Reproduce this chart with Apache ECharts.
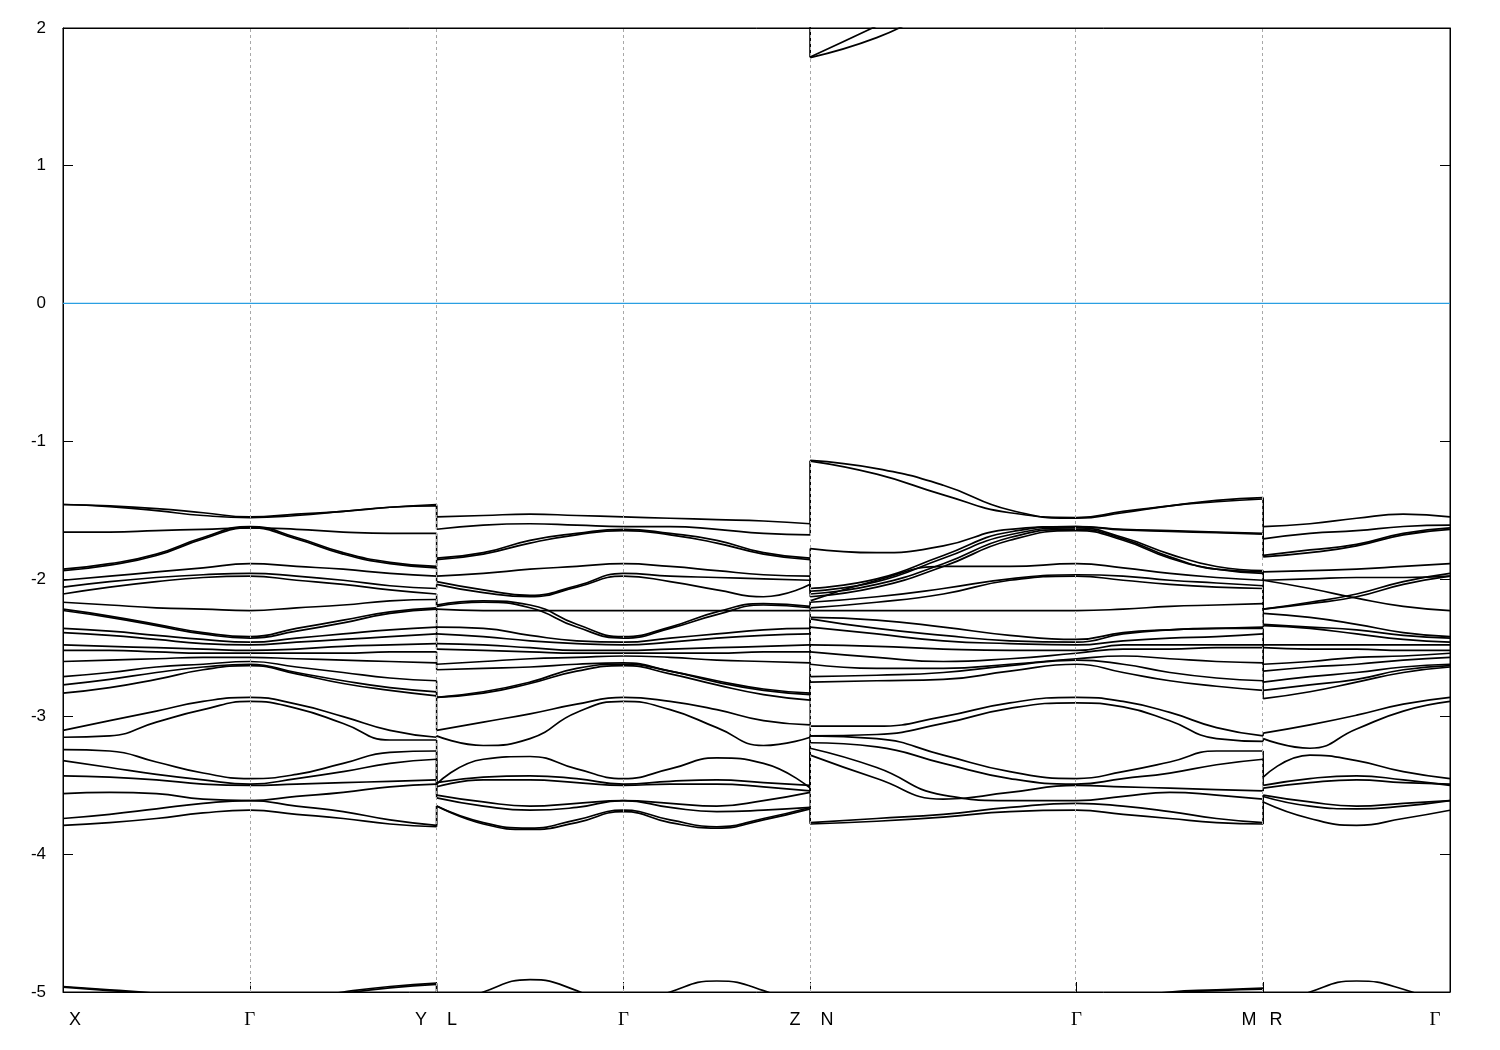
<!DOCTYPE html>
<html><head><meta charset="utf-8">
<script src="https://cdn.jsdelivr.net/npm/echarts@6/dist/echarts.min.js"></script>
<style>html,body{margin:0;padding:0;background:#fff}#c{width:1500px;height:1050px}</style>
</head><body><div id="c"></div>
<script>
// k-path positions (X, Γ, Y|L, Γ, Z|N, Γ, M|R, Γ)
const kPoints = [0, 1, 2, 3, 4, 5.425, 6.425, 7.425];
const segments = [[0, 1], [1, 2], [2, 3], [3, 4], [4, 5.425], [5.425, 6.425], [6.425, 7.425]];
const tickLabels = ['X', 'Γ', 'Y', 'L', 'Γ', 'Z', 'N', 'Γ', 'M', 'R', 'Γ'];
const tickLabelPos = [0.064, 1, 1.917, 2.082, 3, 3.919, 4.09, 5.425, 6.349, 6.494, 7.345];
const energyMin = -5, energyMax = 2, energyStep = 1;
const fermiLevel = 0;

// Bands per segment: energies (eV) at 0, 1/4, 1/2, 3/4, 1 of each segment
const bandsXG = [
  [-1.46, -1.47, -1.49, -1.52, -1.55],
  [-1.46, -1.475, -1.505, -1.54, -1.555],
  [-1.66, -1.66, -1.65, -1.64, -1.63],
  [-1.93, -1.89, -1.82, -1.70, -1.62],
  [-1.94, -1.90, -1.83, -1.71, -1.63],
  [-2.01, -1.98, -1.95, -1.92, -1.89],
  [-2.06, -2.02, -1.99, -1.97, -1.96],
  [-2.11, -2.06, -2.02, -1.99, -1.98],
  [-2.17, -2.19, -2.21, -2.22, -2.23],
  [-2.22, -2.27, -2.33, -2.39, -2.42],
  [-2.23, -2.28, -2.34, -2.40, -2.43],
  [-2.36, -2.38, -2.41, -2.44, -2.46],
  [-2.39, -2.41, -2.44, -2.47, -2.48],
  [-2.48, -2.49, -2.50, -2.51, -2.52],
  [-2.52, -2.52, -2.53, -2.54, -2.54],
  [-2.60, -2.59, -2.58, -2.57, -2.57],
  [-2.71, -2.68, -2.64, -2.62, -2.60],
  [-2.77, -2.73, -2.68, -2.64, -2.62],
  [-2.83, -2.79, -2.73, -2.66, -2.63],
  [-3.10, -3.03, -2.96, -2.89, -2.86],
  [-3.15, -3.14, -3.04, -2.95, -2.89],
  [-3.24, -3.25, -3.33, -3.41, -3.45],
  [-3.32, -3.37, -3.42, -3.46, -3.49],
  [-3.43, -3.44, -3.46, -3.49, -3.50],
  [-3.56, -3.55, -3.56, -3.60, -3.61],
  [-3.74, -3.71, -3.67, -3.63, -3.61],
  [-3.79, -3.77, -3.74, -3.70, -3.68],
  [2.30, 2.32, 2.36, 2.42, 2.45],
  [2.25, 2.28, 2.32, 2.37, 2.40],
  [-4.96, -4.985, -5.01, -5.06, -5.10],
  [-4.965, -4.99, -5.02, -5.07, -5.12]
];
const bandsGY = [
  [-1.55, -1.53, -1.51, -1.48, -1.46],
  [-1.555, -1.54, -1.51, -1.48, -1.47],
  [-1.63, -1.64, -1.66, -1.67, -1.67],
  [-1.62, -1.70, -1.81, -1.88, -1.91],
  [-1.63, -1.71, -1.82, -1.89, -1.92],
  [-1.89, -1.91, -1.93, -1.96, -1.98],
  [-1.96, -1.98, -2.01, -2.05, -2.07],
  [-1.98, -2.01, -2.04, -2.08, -2.11],
  [-2.23, -2.21, -2.19, -2.16, -2.15],
  [-2.42, -2.36, -2.30, -2.24, -2.21],
  [-2.43, -2.38, -2.32, -2.25, -2.22],
  [-2.46, -2.43, -2.40, -2.37, -2.35],
  [-2.48, -2.46, -2.44, -2.42, -2.40],
  [-2.52, -2.51, -2.49, -2.48, -2.47],
  [-2.54, -2.54, -2.54, -2.53, -2.53],
  [-2.57, -2.58, -2.59, -2.60, -2.61],
  [-2.60, -2.64, -2.68, -2.72, -2.74],
  [-2.62, -2.68, -2.74, -2.79, -2.82],
  [-2.63, -2.69, -2.76, -2.81, -2.85],
  [-2.86, -2.91, -3.00, -3.10, -3.15],
  [-2.89, -2.94, -3.05, -3.17, -3.17],
  [-3.45, -3.42, -3.34, -3.26, -3.25],
  [-3.49, -3.45, -3.40, -3.34, -3.31],
  [-3.50, -3.49, -3.48, -3.47, -3.46],
  [-3.61, -3.58, -3.55, -3.51, -3.49],
  [-3.61, -3.65, -3.69, -3.75, -3.79],
  [-3.68, -3.71, -3.74, -3.78, -3.80],
  [2.45, 2.42, 2.36, 2.32, 2.30],
  [2.40, 2.37, 2.32, 2.28, 2.25],
  [-5.10, -5.05, -5.00, -4.96, -4.935],
  [-5.12, -5.06, -5.01, -4.97, -4.945]
];
const bandsLG = [
  [-1.55, -1.54, -1.53, -1.54, -1.55],
  [-1.64, -1.61, -1.60, -1.61, -1.62],
  [-1.85, -1.81, -1.72, -1.67, -1.64],
  [-1.86, -1.82, -1.74, -1.68, -1.65],
  [-1.98, -1.96, -1.93, -1.91, -1.89],
  [-2.02, -2.08, -2.12, -2.05, -1.96],
  [-2.04, -2.10, -2.13, -2.06, -1.98],
  [-2.19, -2.16, -2.19, -2.33, -2.42],
  [-2.20, -2.17, -2.21, -2.35, -2.43],
  [-2.22, -2.23, -2.23, -2.23, -2.23],
  [-2.35, -2.36, -2.41, -2.45, -2.46],
  [-2.40, -2.42, -2.45, -2.47, -2.48],
  [-2.47, -2.48, -2.50, -2.52, -2.52],
  [-2.51, -2.52, -2.53, -2.54, -2.54],
  [-2.62, -2.60, -2.58, -2.57, -2.56],
  [-2.66, -2.65, -2.64, -2.62, -2.61],
  [-2.86, -2.82, -2.75, -2.65, -2.62],
  [-2.86, -2.83, -2.76, -2.67, -2.63],
  [-3.10, -3.04, -2.98, -2.91, -2.86],
  [-3.14, -3.21, -3.16, -2.97, -2.89],
  [-3.49, -3.31, -3.29, -3.38, -3.45],
  [-3.48, -3.44, -3.43, -3.45, -3.49],
  [-3.51, -3.46, -3.46, -3.48, -3.50],
  [-3.57, -3.62, -3.65, -3.63, -3.61],
  [-3.59, -3.65, -3.68, -3.66, -3.61],
  [-3.65, -3.77, -3.81, -3.75, -3.68],
  [-3.65, -3.78, -3.82, -3.77, -3.69],
  [2.30, 2.32, 2.36, 2.42, 2.45],
  [2.25, 2.28, 2.32, 2.37, 2.40],
  [-5.15, -5.00, -4.91, -4.99, -5.15],
  [-5.30, -5.25, -5.20, -5.25, -5.30]
];
const bandsGZ = [
  [-1.55, -1.56, -1.57, -1.58, -1.60],
  [-1.61, -1.62, -1.64, -1.67, -1.68],
  [-1.64, -1.67, -1.72, -1.81, -1.85],
  [-1.65, -1.68, -1.74, -1.82, -1.86],
  [-1.89, -1.91, -1.94, -1.97, -1.98],
  [-1.96, -1.98, -1.99, -2.00, -2.01],
  [-1.98, -2.02, -2.08, -2.13, -2.04],
  [-2.23, -2.23, -2.23, -2.23, -2.23],
  [-2.42, -2.35, -2.24, -2.18, -2.20],
  [-2.43, -2.36, -2.26, -2.19, -2.21],
  [-2.46, -2.43, -2.40, -2.37, -2.36],
  [-2.48, -2.46, -2.43, -2.41, -2.40],
  [-2.52, -2.51, -2.50, -2.49, -2.48],
  [-2.54, -2.54, -2.54, -2.53, -2.53],
  [-2.56, -2.57, -2.59, -2.60, -2.61],
  [-2.62, -2.67, -2.74, -2.80, -2.83],
  [-2.62, -2.67, -2.75, -2.81, -2.84],
  [-2.63, -2.69, -2.77, -2.84, -2.88],
  [-2.86, -2.89, -2.95, -3.03, -3.06],
  [-2.89, -2.95, -3.08, -3.21, -3.15],
  [-3.45, -3.38, -3.30, -3.34, -3.52],
  [-3.49, -3.47, -3.46, -3.48, -3.50],
  [-3.50, -3.49, -3.49, -3.51, -3.54],
  [-3.61, -3.63, -3.65, -3.61, -3.55],
  [-3.62, -3.66, -3.69, -3.68, -3.66],
  [-3.68, -3.75, -3.80, -3.74, -3.66],
  [-3.69, -3.77, -3.81, -3.75, -3.67],
  [2.45, 2.42, 2.38, 2.34, 2.30],
  [2.40, 2.37, 2.34, 2.31, 2.28],
  [-5.15, -5.00, -4.92, -4.99, -5.15],
  [-5.30, -5.25, -5.20, -5.25, -5.30]
];
const bandsNG = [
  [-1.14, -1.20, -1.32, -1.50, -1.56],
  [-1.145, -1.24, -1.39, -1.52, -1.555],
  [-1.78, -1.81, -1.76, -1.64, -1.62],
  [-2.07, -2.00, -1.83, -1.66, -1.62],
  [-2.09, -2.02, -1.85, -1.68, -1.63],
  [-2.11, -2.04, -1.89, -1.70, -1.64],
  [-2.13, -2.06, -1.91, -1.72, -1.65],
  [-2.16, -2.01, -1.91, -1.91, -1.89],
  [-2.17, -2.13, -2.07, -2.00, -1.97],
  [-2.21, -2.17, -2.11, -2.01, -1.98],
  [-2.23, -2.23, -2.23, -2.23, -2.23],
  [-2.28, -2.30, -2.35, -2.41, -2.44],
  [-2.29, -2.36, -2.41, -2.45, -2.46],
  [-2.35, -2.40, -2.45, -2.47, -2.48],
  [-2.48, -2.49, -2.51, -2.52, -2.52],
  [-2.53, -2.57, -2.60, -2.58, -2.54],
  [-2.62, -2.65, -2.65, -2.62, -2.58],
  [-2.71, -2.70, -2.68, -2.63, -2.59],
  [-2.75, -2.74, -2.73, -2.67, -2.62],
  [-3.07, -3.07, -3.00, -2.90, -2.86],
  [-3.14, -3.13, -3.05, -2.94, -2.90],
  [-3.14, -3.16, -3.28, -3.40, -3.45],
  [-3.19, -3.22, -3.34, -3.45, -3.49],
  [-3.23, -3.37, -3.57, -3.61, -3.61],
  [-3.28, -3.45, -3.60, -3.55, -3.50],
  [-3.77, -3.74, -3.71, -3.66, -3.63],
  [-3.78, -3.76, -3.73, -3.69, -3.68],
  [1.79, 2.015, 2.25, 2.40, 2.45],
  [1.785, 1.93, 2.15, 2.30, 2.40],
  [-5.30, -5.25, -5.20, -5.15, -5.10],
  [-5.35, -5.30, -5.25, -5.18, -5.12]
];
const bandsGM = [
  [-1.55, -1.51, -1.47, -1.43, -1.41],
  [-1.55, -1.52, -1.47, -1.44, -1.42],
  [-1.62, -1.64, -1.65, -1.66, -1.67],
  [-1.63, -1.645, -1.655, -1.665, -1.675],
  [-1.63, -1.70, -1.82, -1.91, -1.94],
  [-1.64, -1.71, -1.84, -1.93, -1.95],
  [-1.65, -1.72, -1.85, -1.93, -1.96],
  [-1.89, -1.92, -1.96, -1.99, -2.01],
  [-1.96, -1.98, -2.01, -2.03, -2.05],
  [-1.98, -2.01, -2.04, -2.06, -2.07],
  [-2.23, -2.22, -2.20, -2.19, -2.18],
  [-2.42, -2.39, -2.37, -2.36, -2.35],
  [-2.43, -2.40, -2.37, -2.36, -2.36],
  [-2.46, -2.45, -2.43, -2.42, -2.40],
  [-2.48, -2.48, -2.48, -2.48, -2.48],
  [-2.52, -2.51, -2.51, -2.50, -2.50],
  [-2.54, -2.56, -2.58, -2.60, -2.61],
  [-2.57, -2.62, -2.68, -2.72, -2.74],
  [-2.62, -2.68, -2.74, -2.78, -2.81],
  [-2.86, -2.89, -2.97, -3.08, -3.14],
  [-2.89, -2.93, -3.03, -3.16, -3.18],
  [-3.45, -3.40, -3.33, -3.25, -3.25],
  [-3.49, -3.45, -3.41, -3.35, -3.31],
  [-3.50, -3.51, -3.52, -3.53, -3.54],
  [-3.61, -3.58, -3.55, -3.57, -3.60],
  [-3.61, -3.65, -3.69, -3.74, -3.77],
  [-3.68, -3.71, -3.74, -3.77, -3.78],
  [2.45, 2.40, 2.35, 2.30, 2.28],
  [2.40, 2.36, 2.32, 2.28, 2.25],
  [-5.10, -5.05, -5.00, -4.985, -4.972],
  [-5.12, -5.06, -5.01, -4.99, -4.98]
];
const bandsRG = [
  [-1.62, -1.60, -1.56, -1.53, -1.55],
  [-1.71, -1.67, -1.65, -1.62, -1.61],
  [-1.83, -1.79, -1.75, -1.67, -1.63],
  [-1.84, -1.81, -1.76, -1.68, -1.64],
  [-1.95, -1.94, -1.93, -1.91, -1.89],
  [-2.01, -2.00, -1.99, -1.99, -1.98],
  [-2.01, -2.07, -2.14, -2.20, -2.23],
  [-2.22, -2.17, -2.11, -2.02, -1.96],
  [-2.22, -2.18, -2.13, -2.04, -1.98],
  [-2.25, -2.28, -2.33, -2.39, -2.42],
  [-2.33, -2.35, -2.37, -2.41, -2.43],
  [-2.34, -2.36, -2.40, -2.44, -2.46],
  [-2.48, -2.48, -2.48, -2.48, -2.48],
  [-2.50, -2.51, -2.51, -2.52, -2.52],
  [-2.62, -2.60, -2.57, -2.56, -2.54],
  [-2.67, -2.64, -2.62, -2.59, -2.57],
  [-2.75, -2.71, -2.68, -2.64, -2.62],
  [-2.81, -2.77, -2.73, -2.66, -2.63],
  [-2.87, -2.82, -2.75, -2.68, -2.64],
  [-3.12, -3.06, -2.99, -2.91, -2.86],
  [-3.16, -3.23, -3.09, -2.96, -2.89],
  [-3.44, -3.28, -3.32, -3.40, -3.45],
  [-3.50, -3.45, -3.43, -3.46, -3.50],
  [-3.52, -3.48, -3.46, -3.48, -3.49],
  [-3.57, -3.62, -3.65, -3.63, -3.61],
  [-3.58, -3.65, -3.67, -3.65, -3.61],
  [-3.62, -3.74, -3.79, -3.74, -3.68],
  [2.30, 2.32, 2.36, 2.42, 2.45],
  [2.25, 2.28, 2.32, 2.37, 2.40],
  [-5.15, -5.00, -4.92, -4.98, -5.12],
  [-5.30, -5.25, -5.20, -5.25, -5.30]
];
const segmentBands = [bandsXG, bandsGY, bandsLG, bandsGZ, bandsNG, bandsGM, bandsRG];
// continuous path pieces (segments joined at Γ) and discontinuities between them
const pieces = [[0, 1], [2, 3], [4, 5], [6]];
const junctions = [[1, 2], [3, 4], [5, 6]];

const chart = echarts.init(document.getElementById('c'), null, {renderer: 'canvas'});
const bandStyle = {color: '#000', width: 1.7};
const series = [];

series.push({
  type: 'line', data: [[kPoints[0], fermiLevel], [kPoints[kPoints.length - 1], fermiLevel]],
  symbol: 'none', silent: true, z: 1,
  lineStyle: {color: '#2a9fe2', width: 1.2},
  markLine: {
    symbol: 'none', silent: true, label: {show: false},
    lineStyle: {color: '#a8a8a8', type: [3, 3], width: 1},
    data: kPoints.slice(1, -1).map(k => ({xAxis: k}))
  }
});

function toPts(curve, s) {
  const [k0, k1] = segments[s];
  const n = curve.length - 1;
  return curve.map((e, i) => [k0 + (k1 - k0) * i / n, e]);
}

pieces.forEach(p => {
  let curves = segmentBands[p[0]].map(c => toPts(c, p[0]));
  for (let j = 1; j < p.length; j++) {
    const s = p[j];
    const next = segmentBands[s].map(c => toPts(c, s));
    const lastE = c => c[c.length - 1][1];
    const lo = curves.map((c, i) => i).sort((a, b) => lastE(curves[b]) - lastE(curves[a]));
    const ro = next.map((c, i) => i).sort((a, b) => next[b][0][1] - next[a][0][1]);
    const merged = [];
    for (let r = 0; r < Math.min(lo.length, ro.length); r++) {
      merged.push(curves[lo[r]].concat(next[ro[r]].slice(1)));
    }
    curves = merged;
  }
  curves.forEach(pts => {
    series.push({
      type: 'line', smooth: 0.5, symbol: 'none', silent: true, z: 3,
      lineStyle: bandStyle, data: pts
    });
  });
});

junctions.forEach(([a, b]) => {
  const x = segments[a][1];
  const ends = segmentBands[a].map(c => c[c.length - 1]).sort((p, q) => q - p);
  const starts = segmentBands[b].map(c => c[0]).sort((p, q) => q - p);
  const n = Math.min(ends.length, starts.length);
  for (let i = 0; i < n; i++) {
    series.push({
      type: 'line', symbol: 'none', silent: true, z: 3, lineStyle: {color: '#000', width: 1.5},
      data: [[x, ends[i]], [x, starts[i]]]
    });
  }
});

const labelFont = 'Liberation Sans, Arial, sans-serif';
chart.setOption({
  animation: false,
  backgroundColor: '#fff',
  grid: {left: 63, right: 50, top: 28, bottom: 58, show: true, borderColor: '#000', borderWidth: 1},
  xAxis: [{
    type: 'value', min: kPoints[0], max: kPoints[kPoints.length - 1], position: 'bottom',
    axisLine: {show: true, onZero: false, lineStyle: {color: '#000', width: 1}},
    axisTick: {show: true, inside: true, length: 10, customValues: kPoints, lineStyle: {color: '#000'}},
    axisLabel: {
      customValues: tickLabelPos, margin: 19, color: '#000', fontSize: 18, fontFamily: labelFont,
      formatter: v => {
        const i = tickLabelPos.findIndex(p => Math.abs(p - v) < 1e-6);
        const t = i >= 0 ? tickLabels[i] : '';
        return t === 'Γ' ? '{g|Γ}' : t;
      },
      rich: {g: {fontFamily: 'Liberation Serif, DejaVu Serif, serif', fontSize: 19, color: '#000'}}
    },
    splitLine: {show: false}
  }, {
    type: 'value', min: kPoints[0], max: kPoints[kPoints.length - 1], position: 'top',
    axisLine: {show: true, onZero: false, lineStyle: {color: '#000', width: 1}},
    axisTick: {show: false}, axisLabel: {show: false}, splitLine: {show: false}
  }],
  yAxis: [{
    type: 'value', min: energyMin, max: energyMax, interval: energyStep, position: 'left',
    axisLine: {show: true, onZero: false, lineStyle: {color: '#000', width: 1}},
    axisTick: {show: true, inside: true, length: 10, lineStyle: {color: '#000'}},
    axisLabel: {color: '#000', fontSize: 17, fontFamily: labelFont, margin: 17},
    splitLine: {show: false}
  }, {
    type: 'value', min: energyMin, max: energyMax, interval: energyStep, position: 'right',
    axisLine: {show: true, onZero: false, lineStyle: {color: '#000', width: 1}},
    axisTick: {show: true, inside: true, length: 10, lineStyle: {color: '#000'}},
    axisLabel: {show: false}, splitLine: {show: false}
  }],
  series: series
});
</script>
</body></html>
